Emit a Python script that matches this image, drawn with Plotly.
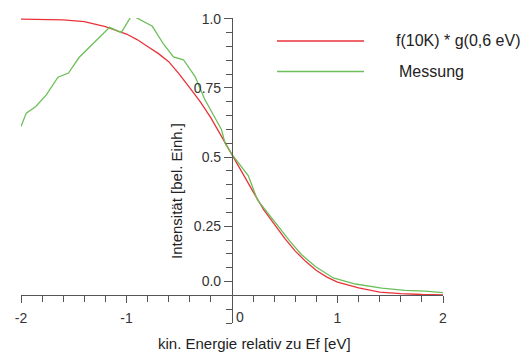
import plotly.graph_objects as go

# --- data ---
red_x = [-2.0, -1.8, -1.6, -1.4, -1.2, -1.0, -0.9, -0.8, -0.7, -0.6, -0.5, -0.4, -0.3, -0.2, -0.1,
         0.0, 0.1, 0.2, 0.3, 0.4, 0.5, 0.6, 0.7, 0.8, 0.9, 1.0, 1.2, 1.4, 1.6, 1.8, 2.0]
red_y = [0.999, 0.998, 0.996, 0.99, 0.972, 0.945, 0.925, 0.90, 0.875, 0.845, 0.80, 0.75, 0.70, 0.642, 0.575,
         0.505, 0.437, 0.375, 0.31, 0.258, 0.206, 0.16, 0.122, 0.09, 0.066, 0.048, 0.027, 0.012, 0.006, 0.003, 0.002]

green_x = [-2.0, -1.95, -1.86, -1.76, -1.65, -1.55, -1.45, -1.35, -1.25, -1.16, -1.05, -0.95,
           -0.755, -0.65, -0.555, -0.46, -0.35, -0.26, -0.10, -0.066, 0.0, 0.155, 0.24, 0.31,
           0.455, 0.55, 0.66, 0.79, 0.96, 1.17, 1.42, 1.64, 1.83, 2.0]
green_y = [0.611, 0.659, 0.683, 0.725, 0.789, 0.804, 0.86, 0.898, 0.933, 0.969, 0.95, 1.013,
           0.973, 0.909, 0.862, 0.852, 0.791, 0.71, 0.60, 0.55, 0.51, 0.432, 0.346, 0.312,
           0.243, 0.195, 0.147, 0.104, 0.063, 0.041, 0.026, 0.018, 0.015, 0.01]

series_names = ["f(10K) * g(0,6 eV)", "Messung"]
x_tickvals = [-2, -1, 0, 1, 2]
x_ticktext = ["-2", "-1", "", "1", "2"]
y_tickvals = [0.05, 0.25, 0.5, 0.75, 1.0]
y_ticktext = ["0.0", "0.25", "0.5", "0.75", "1.0"]

RED = "#e8333a"
GREEN = "#6cbf5a"
AXIS = "#555555"
TEXT = "#333333"
FONT = "Liberation Sans, Arial, sans-serif"

X_RANGE = [-2, 2]
Y_RANGE = [-0.1, 1.003]

W, H = 530, 355
ML, MR, MT, MB = 21, 87, 18, 32
PW = W - ML - MR
PH = H - MT - MB


def px_to_paper_x(px):
    return (px - ML) / PW


def px_to_paper_y(py):
    return (H - MB - py) / PH


fig = go.Figure()
fig.add_trace(go.Scatter(x=red_x, y=red_y, mode="lines", name=series_names[0],
                         line=dict(color=RED, width=1.3), showlegend=False))
fig.add_trace(go.Scatter(x=green_x, y=green_y, mode="lines", name=series_names[1],
                         line=dict(color=GREEN, width=1.3), showlegend=False))

x_axis_pos = (0 - Y_RANGE[0]) / (Y_RANGE[1] - Y_RANGE[0])
y_axis_pos = (0 - X_RANGE[0]) / (X_RANGE[1] - X_RANGE[0])

fig.update_layout(
    width=W, height=H,
    margin=dict(l=ML, r=MR, t=MT, b=MB, pad=0),
    paper_bgcolor="white", plot_bgcolor="white",
    font=dict(family=FONT, size=14, color=TEXT),
    xaxis=dict(range=X_RANGE, anchor="free", position=x_axis_pos,
               showgrid=False, zeroline=False, showline=True, linecolor=AXIS, linewidth=1.2,
               tickmode="array", tickvals=x_tickvals, ticktext=x_ticktext,
               ticks="outside", ticklen=7, tickwidth=1.2, tickcolor=AXIS,
               ticklabelstandoff=3,
               tickfont=dict(size=14, color=TEXT, family=FONT),
               minor=dict(dtick=0.2, tick0=0, ticks="outside", ticklen=6, tickwidth=1.2,
                          tickcolor=AXIS, showgrid=False)),
    yaxis=dict(range=Y_RANGE, anchor="free", position=y_axis_pos,
               showgrid=False, zeroline=False, showline=True, linecolor=AXIS, linewidth=1.2,
               tickmode="array", tickvals=y_tickvals, ticktext=y_ticktext,
               ticks="outside", ticklen=8, tickwidth=1.2, tickcolor=AXIS,
               tickfont=dict(size=14, color=TEXT, family=FONT),
               minor=dict(dtick=0.05, tick0=0, ticks="outside", ticklen=6, tickwidth=1.2,
                          tickcolor=AXIS, showgrid=False)),
)

annotations = [
    dict(text="0", xref="x", x=0, yref="paper", y=px_to_paper_y(317), xanchor="left",
         yanchor="middle", xshift=2, showarrow=False, font=dict(size=14, color=TEXT, family=FONT)),
    dict(text="kin. Energie relativ zu Ef [eV]", xref="paper", x=px_to_paper_x(254),
         yref="paper", y=px_to_paper_y(343), xanchor="center", yanchor="middle",
         showarrow=False, font=dict(size=15, color="#222222", family=FONT)),
    dict(text="Intensität [bel. Einh.]", xref="paper", x=px_to_paper_x(176),
         yref="paper", y=px_to_paper_y(191), xanchor="center", yanchor="middle",
         textangle=-90, showarrow=False, font=dict(size=15, color="#222222", family=FONT)),
    dict(text=series_names[0], xref="paper", x=px_to_paper_x(394), yref="paper",
         y=px_to_paper_y(41), xanchor="left", yanchor="middle", showarrow=False,
         font=dict(size=16, color="#222222", family=FONT)),
    dict(text=series_names[1], xref="paper", x=px_to_paper_x(397), yref="paper",
         y=px_to_paper_y(71.5), xanchor="left", yanchor="middle", showarrow=False,
         font=dict(size=16, color="#222222", family=FONT)),
]
fig.update_layout(annotations=annotations)

shapes = [
    dict(type="line", xref="paper", yref="paper",
         x0=px_to_paper_x(277), x1=px_to_paper_x(364),
         y0=px_to_paper_y(41), y1=px_to_paper_y(41), line=dict(color=RED, width=1.3)),
    dict(type="line", xref="paper", yref="paper",
         x0=px_to_paper_x(277), x1=px_to_paper_x(364),
         y0=px_to_paper_y(71.5), y1=px_to_paper_y(71.5), line=dict(color=GREEN, width=1.3)),
]
fig.update_layout(shapes=shapes)

fig.write_html("out.html")
